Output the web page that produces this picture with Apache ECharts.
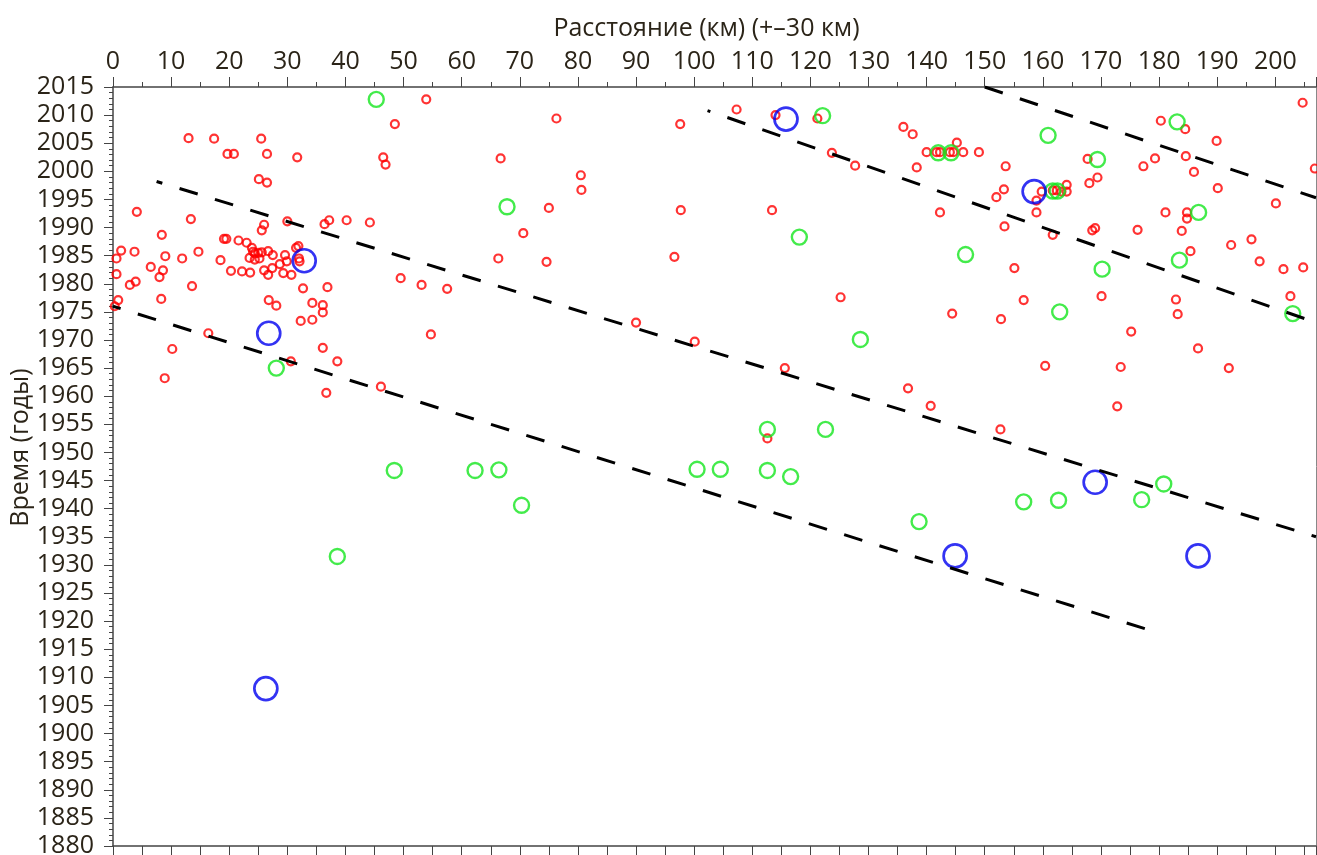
<!DOCTYPE html>
<html>
<head>
<meta charset="utf-8">
<title>Расстояние / время</title>
<script src="https://cdn.jsdelivr.net/npm/echarts@6/dist/echarts.min.js"></script>
<style>
  html, body { margin: 0; padding: 0; background: #fff; }
  #main { width: 1317px; height: 855px; }
</style>
</head>
<body>
<div id="main"></div>
<script>
// точки: [расстояние, км ; год]
var redPoints = [
  [53.9,2012.8],[48.5,2008.4],[13.0,2005.9],[17.4,2005.8],[25.5,2005.8],[19.7,2003.1],[20.8,2003.1],
  [26.5,2003.1],[31.7,2002.5],[46.5,2002.5],[46.9,2001.2],[25.1,1998.6],[26.5,1998.0],[4.1,1992.8],
  [13.4,1991.5],[30.0,1991.1],[36.4,1990.6],[37.2,1991.3],[40.2,1991.3],[44.2,1990.9],[26.0,1990.5],
  [25.6,1989.5],[8.4,1988.7],[19.1,1988.0],[19.5,1988.0],[21.6,1987.7],[23.0,1987.3],[23.9,1986.4],
  [31.5,1986.4],[31.9,1986.7],[1.4,1985.9],[3.7,1985.7],[14.7,1985.7],[26.7,1985.8],[24.4,1985.4],
  [25.0,1985.5],[25.6,1985.6],[24.1,1985.7],[9.0,1984.9],[27.5,1985.1],[29.6,1985.1],[0.6,1984.5],[11.9,1984.5],
  [18.5,1984.2],[23.5,1984.6],[24.4,1984.3],[25.2,1984.5],[32.0,1984.5],[32.1,1984.0],[29.9,1984.0],
  [28.7,1983.5],[6.5,1983.0],[27.4,1982.8],[8.6,1982.4],[20.3,1982.3],[22.2,1982.2],[23.6,1982.0],
  [26.0,1982.4],[29.3,1981.9],[30.7,1981.6],[26.7,1981.6],[49.5,1981.0],[0.6,1981.7],[8.0,1981.2],
  [53.1,1979.8],[57.5,1979.1],[2.9,1979.8],[3.9,1980.4],[13.6,1979.6],[32.7,1979.2],[36.9,1979.4],
  [0.9,1977.1],[0.3,1976.0],[8.3,1977.3],[26.8,1977.1],[28.1,1976.1],[34.3,1976.6],[36.1,1976.2],
  [36.1,1974.9],[32.3,1973.4],[34.3,1973.6],[54.7,1971.0],[16.4,1971.2],[10.2,1968.4],[36.1,1968.6],
  [30.6,1966.2],[38.6,1966.2],[8.9,1963.2],[46.1,1961.7],[36.7,1960.6],
  [76.3,2009.4],[97.6,2008.4],[107.3,2011.0],[114.0,2010.0],[121.2,2009.4],[66.7,2002.3],[123.7,2003.3],
  [127.7,2001.0],[80.5,1999.3],[80.6,1996.7],[75.0,1993.5],[97.7,1993.1],[113.4,1993.1],[70.6,1989.0],
  [66.3,1984.5],[74.6,1983.9],[96.6,1984.8],[125.2,1977.6],
  [90.0,1973.1],[100.1,1969.7],[115.6,1965.0],[112.6,1952.5],
  [204.7,2012.2],[180.3,2009.0],[184.5,2007.5],[136.0,2007.9],[137.6,2006.6],[145.2,2005.1],[140.0,2003.4],
  [141.7,2003.4],[142.3,2003.4],[144.0,2003.4],[144.6,2003.4],[146.3,2003.4],[149.0,2003.4],[189.9,2005.4],
  [138.3,2000.7],[153.6,2000.9],[167.7,2002.2],[179.3,2002.3],[184.6,2002.7],[177.3,2000.9],[186.0,1999.9],
  [206.8,2000.5],[169.4,1998.9],[168.0,1997.9],[190.1,1997.0],[153.3,1996.8],[152.0,1995.4],[159.8,1996.4],
  [161.7,1996.6],[162.4,1996.6],[163.2,1996.4],[164.1,1997.6],[164.1,1996.4],[158.9,1994.8],[158.9,1992.7],
  [142.3,1992.7],[181.1,1992.7],[184.8,1992.7],[184.8,1991.6],[200.1,1994.3],[153.4,1990.2],[169.0,1989.9],
  [168.5,1989.5],[176.3,1989.6],[183.9,1989.4],[161.7,1988.7],[192.4,1986.9],[195.9,1987.9],[185.4,1985.8],
  [197.3,1984.0],[201.4,1982.6],[204.8,1982.9],[155.1,1982.8],[170.1,1977.8],[202.6,1977.8],[182.9,1977.2],
  [156.7,1977.1],
  [144.4,1974.7],[152.8,1973.7],[183.2,1974.6],[175.2,1971.5],[186.7,1968.5],[160.4,1965.4],[173.4,1965.2],
  [192.0,1965.0],[136.8,1961.4],[140.7,1958.3],[172.8,1958.2],[152.7,1954.1]
];
var greenPoints = [
  [45.3,2012.8],[28.1,1965.0],[48.4,1946.8],[38.6,1931.5],[122.1,2009.9],[67.8,1993.7],[118.1,1988.3],
  [128.6,1970.1],[112.6,1954.1],[122.6,1954.1],[62.3,1946.8],[66.4,1946.9],[70.3,1940.6],[100.5,1947.0],
  [104.5,1947.0],[112.6,1946.8],[116.6,1945.7],[183.1,2008.8],[160.9,2006.4],[142.0,2003.3],[144.2,2003.3],
  [169.4,2002.1],[161.7,1996.5],[162.5,1996.5],[186.8,1992.7],[146.7,1985.2],[183.5,1984.2],[170.2,1982.6],
  [162.9,1975.0],[203.0,1974.7],[180.8,1944.4],[156.7,1941.2],[162.7,1941.5],[177.0,1941.6],[138.7,1937.7]
];
var bluePoints = [
  [32.9,1984.1],[26.8,1971.2],[26.3,1908.0],[115.8,2009.3],[158.5,1996.4],[169.0,1944.7],[144.9,1931.6],
  [186.7,1931.6]
];
// пунктирные линии (концы)
var lineA = [[0, 1976.0], [179.6, 1918.0]];
var lineB = [[7.5, 1998.2], [207, 1935.0]];
var lineC = [[102.3, 2010.8], [207, 1973.1]];
var lineD = [[150, 2015.0], [207, 1995.3]];

var xMin = 0, xMax = 207, yMin = 1880, yMax = 2015;

var textColor = '#2b2418';
var font = '"Open Sans", "Noto Sans", sans-serif';
var axisColor = '#444';

var myChart = echarts.init(document.getElementById('main'));

function dashLine(data, offset) {
  return {
    type: 'line',
    data: data,
    symbol: 'none',
    silent: true,
    z: 5,
    lineStyle: { color: '#000', width: 3, type: [19, 18], dashOffset: offset }
  };
}

function circles(data, color, size, bw, z) {
  return {
    type: 'scatter',
    data: data,
    symbol: 'circle',
    symbolSize: size,
    z: z,
    itemStyle: { color: 'rgba(0,0,0,0)', borderColor: color, borderWidth: bw }
  };
}

myChart.setOption({
  animation: false,
  backgroundColor: '#fff',
  textStyle: { fontFamily: font },
  grid: { left: 113, top: 87, right: 1, bottom: 9, containLabel: false, outerBoundsMode: 'none' },
  xAxis: [{
    type: 'value',
    position: 'top',
    min: xMin, max: xMax, interval: 10,
    name: 'Расстояние (км) (+–30 км)',
    nameLocation: 'middle',
    nameGap: 46,
    nameMoveOverlap: false,
    nameTextStyle: { color: textColor, fontSize: 25, fontFamily: font, padding: [0, 16, 0, 0] },
    axisLine: { show: true, onZero: false, lineStyle: { color: axisColor, width: 1.5 } },
    axisTick: { show: true, inside: false, length: 10, lineStyle: { color: axisColor, width: 1 } },
    minorTick: { show: true, splitNumber: 2, length: 5, lineStyle: { color: axisColor, width: 1 } },
    axisLabel: {
      color: textColor, fontSize: 25, margin: 13, fontFamily: font, showMaxLabel: false,
      formatter: function (v) { return v % 10 === 0 ? String(v) : ''; }
    },
    splitLine: { show: false }
  }, {
    type: 'value',
    position: 'bottom',
    min: xMin, max: xMax, interval: 10,
    axisLine: { show: true, onZero: false, lineStyle: { color: axisColor, width: 1.5 } },
    axisTick: { show: true, length: 9, lineStyle: { color: axisColor, width: 1 } },
    minorTick: { show: true, splitNumber: 2, length: 9, lineStyle: { color: axisColor, width: 1 } },
    axisLabel: { show: false },
    splitLine: { show: false }
  }],
  yAxis: [{
    type: 'value',
    position: 'left',
    min: yMin, max: yMax, interval: 5,
    name: 'Время (годы)',
    nameLocation: 'middle',
    nameGap: 80,
    nameMoveOverlap: false,
    nameTextStyle: { color: textColor, fontSize: 25, fontFamily: font, padding: [0, 0, 0, 38] },
    axisLine: { show: true, onZero: false, lineStyle: { color: axisColor, width: 1.5 } },
    axisTick: { show: true, length: 9, lineStyle: { color: axisColor, width: 1 } },
    minorTick: { show: true, splitNumber: 5, length: 4, lineStyle: { color: axisColor, width: 1 } },
    axisLabel: {
      color: textColor, fontSize: 25, margin: 19, interval: 0, fontFamily: font,
      formatter: function (v) { return String(v); }
    },
    splitLine: { show: false }
  }, {
    type: 'value',
    position: 'right',
    min: yMin, max: yMax, interval: 5,
    axisLine: { show: true, onZero: false, lineStyle: { color: '#888', width: 1 } },
    axisTick: { show: false },
    axisLabel: { show: false },
    splitLine: { show: false }
  }],
  series: [
    circles(redPoints, '#ff0000', 8, 2.2, 2),
    circles(greenPoints, '#14e61e', 15, 2.4, 3),
    circles(bluePoints, '#0000f0', 23, 2.7, 4),
    dashLine(lineA, 11),
    dashLine(lineB, 13),
    dashLine(lineC, 16),
    dashLine(lineD, 0)
  ]
});
</script>
</body>
</html>
